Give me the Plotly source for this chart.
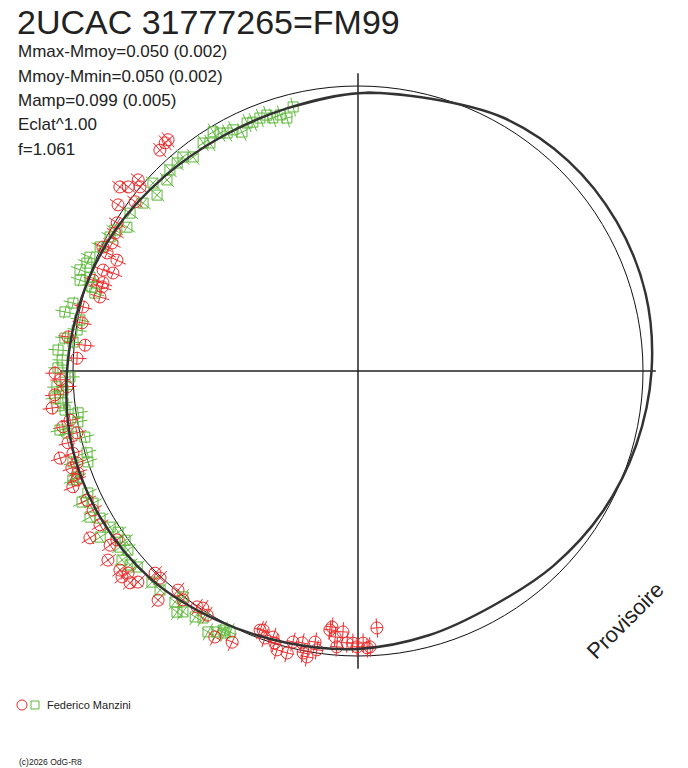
import numpy as np
import plotly.graph_objects as go

# ---------------- data ----------------
title_text = "2UCAC 31777265=FM99"
stat_lines = ["Mmax-Mmoy=0.050 (0.002)", "Mmoy-Mmin=0.050 (0.002)",
              "Mamp=0.099 (0.005)", "Eclat^1.00", "f=1.061"]
observer = "Federico Manzini"
watermark = "Provisoire"
credit = "(c)2026 OdG-R8"

# fitted light curve: phase angle (deg, counter-clockwise from top) and radius
fit_theta = [0, 15, 30, 45, 60, 75, 90, 105, 120, 135, 150, 165,
             180, 195, 210, 225, 240, 255, 270, 285, 300, 315, 330, 345]
fit_r = [0.975, 0.955, 0.951, 0.963, 0.985, 1.003, 1.021, 1.038, 1.040, 1.030, 1.005, 0.986,
         0.975, 0.960, 0.950, 0.968, 0.990, 1.010, 1.030, 1.045, 1.048, 1.043, 1.025, 0.989]

# observations, green squares
green_theta = [13.8, 15.7, 16.9, 18.6, 19.6, 21.2, 22.9, 24.1, 25.9, 27.4,
               28.8, 30.1, 31.2, 33.0, 34.2, 37.6, 39.3, 41.0, 43.1, 45.0,
               47.5, 48.8, 52.0, 55.3, 58.1, 59.9, 61.6, 64.3, 67.0, 68.3,
               70.0, 71.9, 70.7, 72.5, 73.5, 76.6, 78.6, 79.6, 81.7, 83.6,
               84.2, 86.0, 87.9, 89.4, 91.2, 93.0, 93.7, 95.1, 96.2, 97.6,
               98.5, 100.3, 101.2, 102.1, 103.6, 106.8, 107.7, 108.6, 110.7, 110.9,
               114.3, 115.4, 116.5, 118.6, 119.7, 122.2, 123.9, 122.8, 126.0, 126.5,
               127.9, 128.7, 130.4, 131.6, 135.7, 137.9, 141.6, 142.2, 143.1, 144.0,
               146.5, 147.9, 150.1, 151.6, 153.1, 152.5, 153.9]
green_r = [0.954, 0.922, 0.939, 0.937, 0.953, 0.952, 0.948, 0.953, 0.932, 0.953,
           0.953, 0.965, 0.981, 0.954, 0.967, 0.948, 0.970, 0.967, 0.966, 0.948,
           0.976, 0.937, 0.957, 0.973, 0.955, 0.986, 0.989, 1.004, 1.022, 1.024,
           1.038, 1.026, 0.996, 0.979, 0.963, 1.028, 1.049, 0.992, 0.996, 1.035,
           1.005, 1.055, 1.039, 1.053, 1.011, 1.058, 1.037, 1.067, 1.041, 1.037,
           0.993, 0.999, 1.066, 1.041, 0.986, 0.993, 1.050, 1.000, 1.054, 1.071,
           1.040, 1.072, 1.039, 1.071, 1.042, 1.028, 1.014, 1.076, 1.010, 1.039,
           1.023, 1.061, 1.050, 1.036, 1.035, 1.036, 1.034, 1.003, 1.058, 1.045,
           1.035, 1.023, 1.056, 1.041, 1.031, 1.025, 1.020]

# observations, red circles
red_theta = [40.2, 41.9, 39.4, 52.3, 51.3, 49.0, 49.8, 55.3, 52.8, 58.4,
             60.4, 62.5, 65.3, 64.8, 64.1, 68.2, 68.4, 71.1, 70.9, 71.8,
             74.0, 76.9, 80.1, 83.3, 84.6, 87.4, 90.4, 91.7, 93.1, 94.5,
             96.9, 99.7, 100.7, 102.4, 103.9, 106.3, 106.1, 110.0, 108.1, 108.7,
             111.2, 112.1, 115.5, 117.7, 120.8, 121.9, 125.1, 125.0, 127.1, 129.9,
             131.3, 131.1, 132.9, 133.8, 134.9, 136.3, 138.9, 140.6, 142.6, 145.7,
             146.8, 148.3, 151.7, 155.1, 159.3, 159.9, 162.3, 160.8, 163.0, 163.8,
             165.9, 166.5, 168.4, 169.0, 169.9, 171.0, 171.6, 173.8, 174.2, 175.1,
             176.7, 175.6, 177.7, 178.9, 179.8, 181.1, 181.9, 182.5, 184.2]
red_r = [1.048, 1.041, 1.050, 1.056, 1.033, 1.022, 1.001, 1.024, 0.982, 0.992,
         0.980, 0.973, 0.931, 0.973, 0.995, 0.926, 0.962, 0.983, 0.947, 0.945,
         0.942, 0.991, 0.983, 1.025, 0.962, 0.987, 1.063, 1.046, 1.023, 1.067,
         1.081, 1.025, 1.054, 1.010, 1.048, 1.089, 1.041, 1.046, 1.038, 1.060,
         1.058, 1.080, 1.053, 1.050, 1.054, 1.108, 1.063, 1.033, 1.100, 1.089,
         1.074, 1.099, 1.092, 1.070, 1.005, 1.005, 1.067, 0.995, 1.011, 1.002,
         0.994, 1.007, 1.060, 1.049, 0.972, 0.968, 0.980, 0.992, 0.998, 1.019,
         1.020, 0.978, 0.974, 1.008, 1.019, 0.963, 0.989, 0.914, 0.903, 0.937,
         0.917, 0.971, 0.955, 0.955, 0.968, 0.955, 0.972, 0.969, 0.904]

radial_err = 0.034    # radial error bar half-length (normalised radius)
angular_err = 1.3     # tangential error bar half-length (deg)

RED = "#ec2a2a"
GREEN = "#5db83a"
INK = "#222222"

W, H = 688, 768
CX, CY, R = 358, 371, 285   # pixel centre and radius of the reference circle


def to_xy(theta_deg, r):
    t = np.radians(np.asarray(theta_deg, float))
    r = np.asarray(r, float)
    return -r * np.sin(t), r * np.cos(t)


def error_segments(theta, r):
    xs, ys = [], []
    for th, rr in zip(theta, r):
        x0, y0 = to_xy(th, rr - radial_err)
        x1, y1 = to_xy(th, rr + radial_err)
        xs += [float(x0), float(x1), None]
        ys += [float(y0), float(y1), None]
        ta = np.linspace(th - angular_err, th + angular_err, 3)
        xa, ya = to_xy(ta, [rr] * 3)
        xs += list(map(float, xa)) + [None]
        ys += list(map(float, ya)) + [None]
    return xs, ys


fig = go.Figure()

# error bars
for th, rr, col in [(green_theta, green_r, GREEN), (red_theta, red_r, RED)]:
    ex, ey = error_segments(th, rr)
    fig.add_trace(go.Scatter(x=ex, y=ey, mode="lines", line=dict(color=col, width=1),
                             hoverinfo="skip", showlegend=False))

gx, gy = to_xy(green_theta, green_r)
fig.add_trace(go.Scatter(x=gx, y=gy, mode="markers", showlegend=False,
                         marker=dict(symbol="square-open", size=10, color=GREEN,
                                     line=dict(width=1, color=GREEN))))
rx, ry = to_xy(red_theta, red_r)
fig.add_trace(go.Scatter(x=rx, y=ry, mode="markers", showlegend=False,
                         marker=dict(symbol="circle-open", size=12, color=RED,
                                     line=dict(width=1, color=RED))))

# fitted curve (wrapped so the spline closes smoothly)
wrap_t = [fit_theta[-1] - 360] + fit_theta + [fit_theta[0] + 360, fit_theta[1] + 360]
wrap_r = [fit_r[-1]] + fit_r + [fit_r[0], fit_r[1]]
fx, fy = to_xy(wrap_t, wrap_r)
fig.add_trace(go.Scatter(x=fx, y=fy, mode="lines", showlegend=False, hoverinfo="skip",
                         line=dict(color="#333333", width=2.5, shape="spline", smoothing=1.0)))

shapes = [
    dict(type="circle", xref="x", yref="y", x0=-1, x1=1, y0=-1, y1=1,
         line=dict(color="#111111", width=1), layer="below"),
    dict(type="line", xref="x", yref="y", x0=0, x1=0, y0=-1.045, y1=1.045,
         line=dict(color=INK, width=1.5), layer="below"),
    dict(type="line", xref="x", yref="y", x0=-1.045, x1=1.045, y0=0, y1=0,
         line=dict(color=INK, width=1.5), layer="below"),
    # legend symbols
    dict(type="circle", xref="paper", yref="paper", xsizemode="pixel", ysizemode="pixel",
         xanchor=22 / W, yanchor=1 - 705 / H, x0=-5, x1=5, y0=-5, y1=5,
         line=dict(color=RED, width=1)),
    dict(type="rect", xref="paper", yref="paper", xsizemode="pixel", ysizemode="pixel",
         xanchor=35 / W, yanchor=1 - 705 / H, x0=-4, x1=4, y0=-4, y1=4,
         line=dict(color=GREEN, width=1)),
]

FONT = "Liberation Sans, Arial, sans-serif"
ann = [dict(text=title_text, x=15 / W, y=1 - 22 / H, xref="paper", yref="paper",
            xanchor="left", yanchor="middle", showarrow=False,
            font=dict(family=FONT, size=34, color=INK))]
for i, s in enumerate(stat_lines):
    ann.append(dict(text=s, x=16 / W, y=1 - (51.5 + 24.5 * i) / H, xref="paper", yref="paper",
                    xanchor="left", yanchor="middle", showarrow=False,
                    font=dict(family=FONT, size=17, color=INK)))
ann.append(dict(text=observer, x=45 / W, y=1 - 705 / H, xref="paper", yref="paper",
                xanchor="left", yanchor="middle", showarrow=False,
                font=dict(family=FONT, size=11, color=INK)))
ann.append(dict(text=credit, x=17 / W, y=1 - 762 / H, xref="paper", yref="paper",
                xanchor="left", yanchor="middle", showarrow=False,
                font=dict(family=FONT, size=8.5, color=INK)))
ann.append(dict(text=watermark, x=625 / W, y=1 - 620 / H, xref="paper", yref="paper",
                xanchor="center", yanchor="middle", showarrow=False, textangle=-45,
                font=dict(family=FONT, size=22, color=INK)))

fig.update_layout(
    width=W, height=H, margin=dict(l=0, r=0, t=0, b=0),
    paper_bgcolor="white", plot_bgcolor="white",
    xaxis=dict(range=[-CX / R, (W - CX) / R], visible=False, domain=[0, 1], fixedrange=True),
    yaxis=dict(range=[-(H - CY) / R, CY / R], visible=False, domain=[0, 1], fixedrange=True),
    shapes=shapes, annotations=ann, showlegend=False, hovermode=False,
)

fig.write_html("out.html", config={"displayModeBar": False},
               post_script="document.body.style.margin='0';document.body.style.padding='0';")
